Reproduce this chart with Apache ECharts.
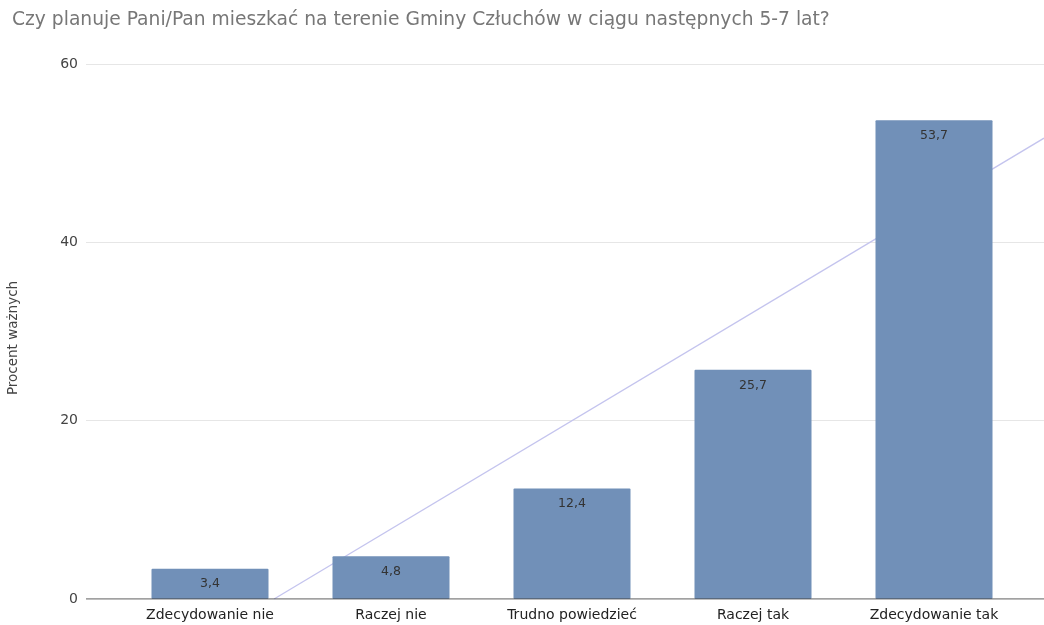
<!DOCTYPE html>
<html>
<head>
<meta charset="utf-8">
<script src="https://cdn.jsdelivr.net/npm/echarts@6/dist/echarts.min.js"></script>
<style>
  html, body { margin: 0; padding: 0; background: #fff; }
  #chart { width: 1044px; height: 625px; }
</style>
</head>
<body>
<div id="chart"></div>
<script>
// Survey answers and their share of valid responses (%)
const categories = ['Zdecydowanie nie', 'Raczej nie', 'Trudno powiedzieć', 'Raczej tak', 'Zdecydowanie tak'];
const values = [3.4, 4.8, 12.4, 25.7, 53.7];
const yTicks = [0, 20, 40, 60];

const titleText = 'Czy planuje Pani/Pan mieszkać na terenie Gminy Człuchów w ciągu następnych 5-7 lat?';
const yName = 'Procent ważnych';

const FONT = 'DejaVu Sans, Liberation Sans, sans-serif';

// Least-squares linear trend over category index
const n = values.length;
const mx = (n - 1) / 2;
const my = values.reduce((a, b) => a + b, 0) / n;
let sxy = 0, sxx = 0;
values.forEach((v, i) => { sxy += (i - mx) * (v - my); sxx += (i - mx) * (i - mx); });
const slope = sxy / sxx;
const intercept = my - slope * mx;

// Outer plot spans 86..1044 px; categories are 181 px apart, first centred at 210 px
const outerLeft = 86, outerWidth = 958;
const step = 181, firstCenter = 210;
const xMin = -(firstCenter - outerLeft) / step;
const xMax = (outerLeft + outerWidth - firstCenter) / step;
const xStart = Math.max(xMin, -intercept / slope);
const trend = [[xStart, intercept + slope * xStart], [xMax, intercept + slope * xMax]];

const innerLeft = firstCenter - step / 2;
const innerWidth = step * n;

const chart = echarts.init(document.getElementById('chart'));
chart.setOption({
  animation: false,
  backgroundColor: '#fff',
  textStyle: { fontFamily: FONT },
  title: {
    text: titleText,
    left: 7, top: 6,
    textStyle: { fontSize: 18.7, fontWeight: 'normal', color: '#777', fontFamily: FONT }
  },
  graphic: [{
    type: 'text',
    x: 13, y: 338,
    rotation: Math.PI / 2,
    style: { text: yName, fontSize: 13.5, fill: '#444', align: 'center', verticalAlign: 'middle',
             fontFamily: FONT }
  }],
  grid: [
    { left: outerLeft, top: 64, width: outerWidth, bottom: 26 },
    { left: innerLeft, top: 64, width: innerWidth, bottom: 26 }
  ],
  xAxis: [
    { type: 'value', gridIndex: 0, min: xMin, max: xMax, show: false },
    {
      type: 'category', gridIndex: 1, data: categories,
      axisLine: { show: false },
      axisTick: { show: false },
      axisLabel: { color: '#222', fontSize: 14, margin: 9, interval: 0, fontFamily: FONT }
    }
  ],
  yAxis: [
    {
      type: 'value', gridIndex: 0, min: yTicks[0], max: yTicks[yTicks.length - 1], interval: 20,
      axisLine: { show: false }, axisTick: { show: false },
      axisLabel: { color: '#444', fontSize: 14, margin: 8, fontFamily: FONT },
      splitLine: { lineStyle: { color: '#e6e6e6', width: 1 } }
    },
    { type: 'value', gridIndex: 1, min: 0, max: 60, show: false }
  ],
  series: [
    {
      type: 'line', xAxisIndex: 0, yAxisIndex: 0,
      data: trend, symbol: 'none', silent: true,
      lineStyle: { color: '#c4c4ee', width: 1.3 },
      z: 1
    },
    {
      // baseline at zero
      type: 'line', xAxisIndex: 0, yAxisIndex: 0,
      data: [[xMin, 0], [xMax, 0]], symbol: 'none', silent: true,
      lineStyle: { color: '#444', width: 1.2 },
      z: 4
    },
    {
      type: 'bar', xAxisIndex: 1, yAxisIndex: 1,
      data: values, barWidth: 117,
      itemStyle: { color: '#7190b8', borderRadius: 1 },
      label: {
        show: true, position: 'insideTop', distance: 9,
        color: '#333', fontSize: 12.5, fontFamily: FONT,
        formatter: p => String(p.value).replace('.', ',')
      },
      z: 3
    }
  ]
});
</script>
</body>
</html>
